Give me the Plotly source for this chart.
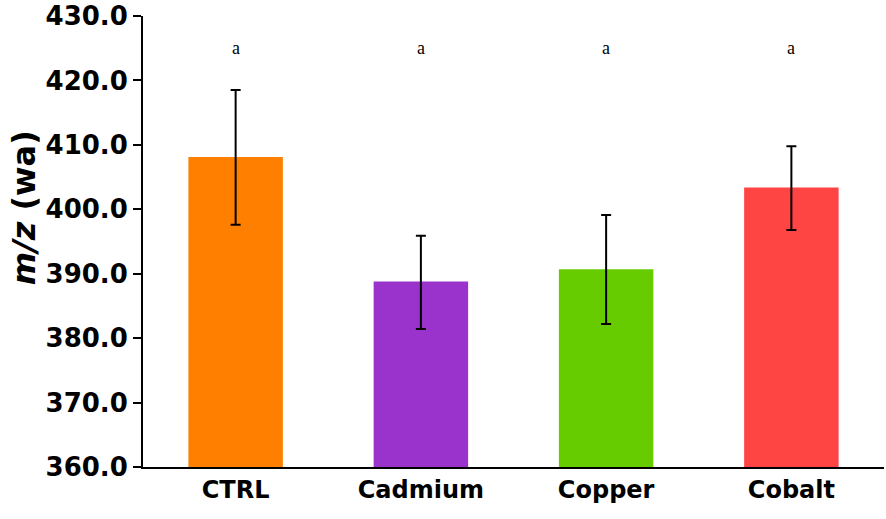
import plotly.graph_objects as go

# data
groups = ["CTRL", "Cadmium", "Copper", "Cobalt"]
mean_mz = [408.1, 388.8, 390.7, 403.4]
err_up = [10.4, 7.1, 8.4, 6.4]
err_down = [10.5, 7.4, 8.5, 6.6]
letters = ["a", "a", "a", "a"]
bar_colors = ["#FF8000", "#9933CC", "#66CC00", "#FF4444"]
letter_y = 425

fig = go.Figure()
fig.add_trace(go.Bar(
    x=groups,
    y=mean_mz,
    base=0,
    marker=dict(color=bar_colors, line=dict(width=0)),
    error_y=dict(type="data", symmetric=False, array=err_up, arrayminus=err_down,
                 color="black", thickness=2, width=5),
    showlegend=False,
))

for g, lt in zip(groups, letters):
    fig.add_annotation(x=g, y=letter_y, text=lt, showarrow=False,
                       font=dict(family="Liberation Serif", size=18, color="black"))

# y title as annotation so it can sit a bit above centre like the reference
fig.add_annotation(xref="paper", yref="paper", x=-0.161, y=0.575,
                   xanchor="center", yanchor="middle",
                   text="<i>m/z</i> (wa)", textangle=-90, showarrow=False,
                   font=dict(family="DejaVu Sans", size=32, color="black", weight="bold"))

fig.update_layout(
    width=886, height=519,
    margin=dict(l=143, r=2, t=16, b=52),
    plot_bgcolor="white",
    paper_bgcolor="white",
    bargap=0.49,
    font=dict(family="DejaVu Sans", color="black"),
)
fig.update_yaxes(
    range=[360, 430], dtick=10, tickformat=".1f",
    showline=True, linecolor="black", linewidth=2,
    ticks="outside", ticklen=8, tickwidth=2, tickcolor="black",
    showgrid=False, zeroline=False, automargin=False,
    tickfont=dict(family="DejaVu Sans", size=26, color="black", weight="bold"),
)
fig.update_xaxes(
    showline=True, linecolor="black", linewidth=2,
    ticks="", showgrid=False, automargin=False,
    tickfont=dict(family="DejaVu Sans", size=24, color="black", weight="bold"),
)

# drop the default 8px page margin so the figure fills the window
fig.write_html("out.html", config={"displayModeBar": False},
               post_script="document.body.style.margin='0px';")
